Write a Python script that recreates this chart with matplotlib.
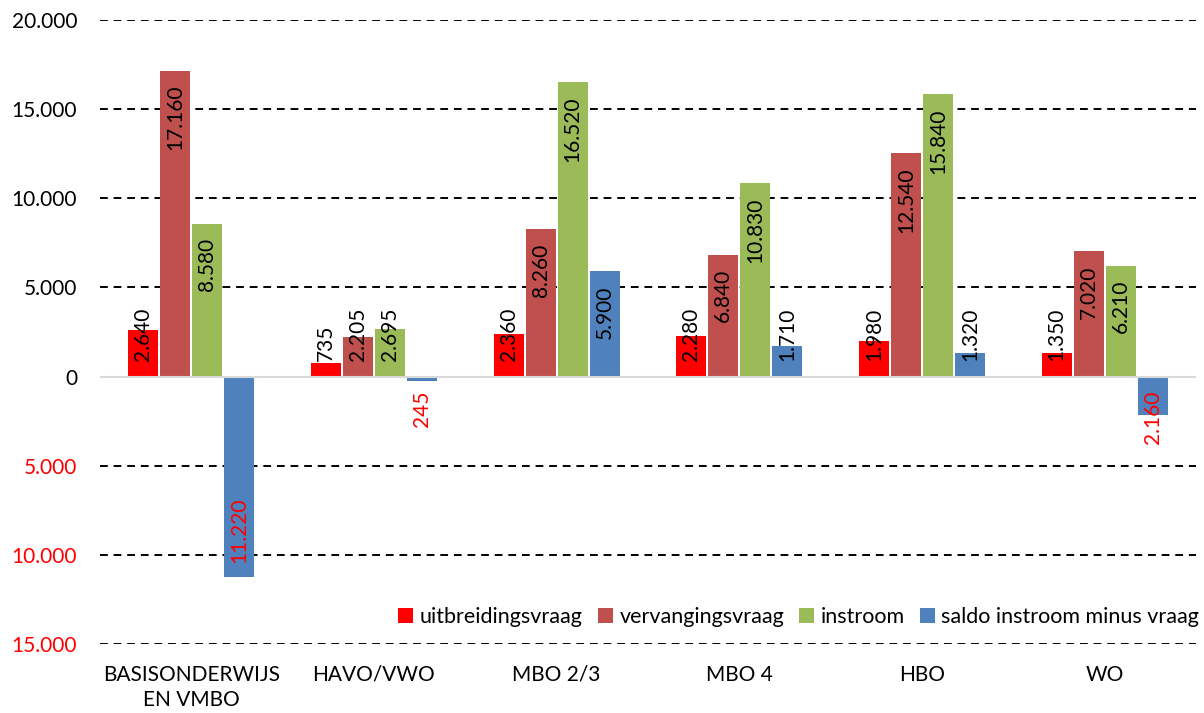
import matplotlib
matplotlib.use("Agg")
import matplotlib.pyplot as plt
import numpy as np
from matplotlib.ticker import FixedLocator

plt.rcParams['font.family'] = ['Lato', 'DejaVu Sans']

categories = ["BASISONDERWIJS\nEN VMBO", "HAVO/VWO", "MBO 2/3", "MBO 4", "HBO", "WO"]
series_names = ["uitbreidingsvraag", "vervangingsvraag", "instroom", "saldo instroom minus vraag"]
uitbreidingsvraag = [2640, 735, 2360, 2280, 1980, 1350]
vervangingsvraag = [17160, 2205, 8260, 6840, 12540, 7020]
instroom = [8580, 2695, 16520, 10830, 15840, 6210]
saldo = [-11220, -245, 5900, 1710, 1320, -2160]
yticks = [-15000, -10000, -5000, 0, 5000, 10000, 15000, 20000]

colors = ["#FF0000", "#C0504D", "#9BBB59", "#4F81BD"]
series = [uitbreidingsvraag, vervangingsvraag, instroom, saldo]

FS = 15
W, H = 1204, 713
fig = plt.figure(figsize=(W / 100, H / 100), dpi=100)
left, right, top, bottom = 100, 1196, 20, 644
ax = fig.add_axes([left / W, 1 - bottom / H, (right - left) / W, (bottom - top) / H])

x = np.arange(len(categories))
step = 0.175
bw = 0.165
bars = []
for i, (vals, c, name) in enumerate(zip(series, colors, series_names)):
    b = ax.bar(x + (i - 1.5) * step, vals, width=bw, color=c, label=name, zorder=3)
    bars.append(b)

ax.set_xlim(-0.5, len(categories) - 0.5)
ax.set_ylim(-15000, 20000)
ax.yaxis.set_major_locator(FixedLocator(yticks))

def fmt(v):
    return f"{abs(int(v)):,}".replace(",", ".")

ax.set_yticklabels([fmt(v) for v in yticks])
for lab, v in zip(ax.get_yticklabels(), yticks):
    lab.set_color("red" if v < 0 else "black")

for v in yticks:
    if v != 0:
        ax.axhline(v, color="black", lw=1.4, ls=(0, (4, 3)), zorder=1)
ax.axhline(0, color="#D9D9D9", lw=1.5, zorder=4)

for s in ax.spines.values():
    s.set_visible(False)
ax.tick_params(axis="both", length=0, labelsize=FS)
ax.tick_params(axis="y", pad=16.5)
ax.tick_params(axis="x", pad=15)
ax.set_xticks(x)
ax.set_xticklabels(categories, linespacing=1.35)

leg = ax.legend(loc="center right", bbox_to_anchor=(1.003, 27 / 624), ncol=4, frameon=False,
                fontsize=15.5, handlelength=0.7, handleheight=0.7, handletextpad=0.3,
                columnspacing=0.7, borderaxespad=0, borderpad=0)

# data labels
fig.canvas.draw()
renderer = fig.canvas.get_renderer()
zero_px = ax.transData.transform((0, 0))[1]
for b in bars:
    for rect in b:
        val = rect.get_height()
        if rect.get_y() < 0:
            val = rect.get_y()
        cx = rect.get_x() + rect.get_width() / 2
        col = "red" if val < 0 else "black"
        t = ax.text(cx, 0, fmt(val), rotation=90, ha="center", va="bottom", fontsize=FS,
                    color=col, zorder=5)
        bb = t.get_window_extent(renderer)
        L = bb.height
        cxp, vp = ax.transData.transform((cx, val))
        if val >= 0:
            y_end = vp - 14
            y_start = y_end - L
            if y_start < zero_px + 16:
                y_start = zero_px + 16
            ydata = ax.transData.inverted().transform((cxp, y_start))[1]
            t.set_y(ydata)
            t.set_va("bottom")
        else:
            y_bot = vp + 14
            y_top = y_bot + L
            if y_top > zero_px - 14:
                y_top = zero_px - 14
            ydata = ax.transData.inverted().transform((cxp, y_top))[1]
            t.set_y(ydata)
            t.set_va("top")

fig.savefig("out.png", dpi=100)
